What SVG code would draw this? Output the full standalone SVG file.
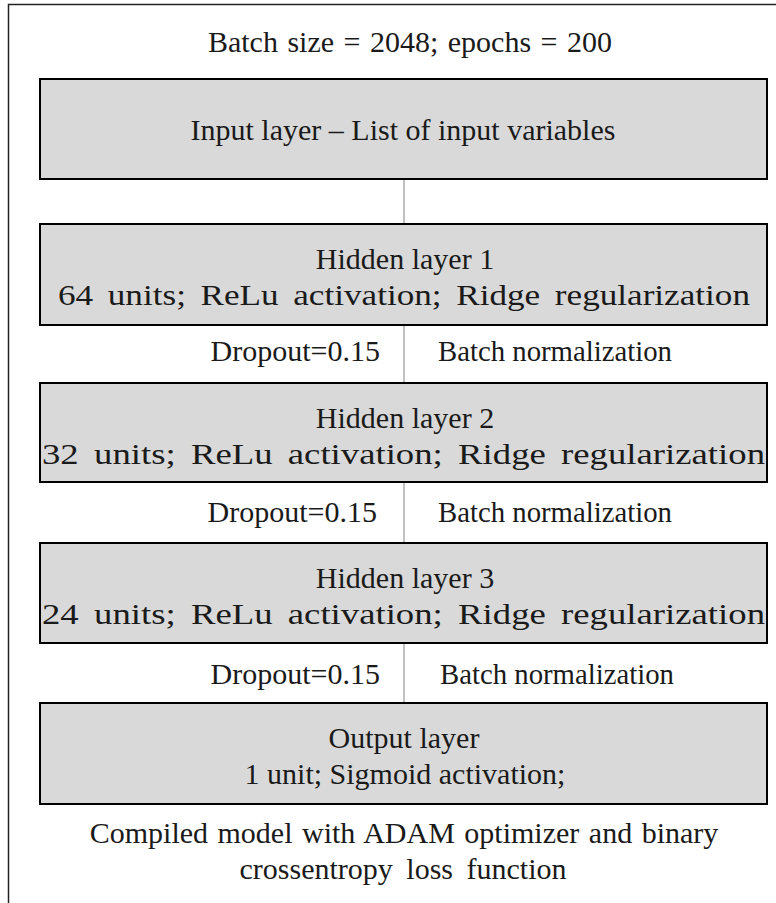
<svg xmlns="http://www.w3.org/2000/svg" width="776" height="903" viewBox="0 0 776 903">
<style>
  .frame { fill: none; stroke: #222; stroke-width: 1.5; }
  .box { fill: #d9d9d9; stroke: #000; stroke-width: 2; }
  .conn { stroke: #c0c0c0; stroke-width: 2; fill: none; }
  text { font-family: "Liberation Serif", "Times New Roman", serif; font-size: 30px; fill: #1a1a1a; }
  .c { text-anchor: middle; }
  .r { text-anchor: end; }
  .w { word-spacing: 5px; }
</style>
<rect width="776" height="903" fill="#ffffff"/>
<path class="frame" d="M8.5,903 V4.5 H776"/>
<text class="c" x="410" y="52" style="word-spacing:2px">Batch size = 2048; epochs = 200</text>
<g id="connectors">
  <line class="conn" x1="404" y1="179" x2="404" y2="224"/>
  <line class="conn" x1="404" y1="325" x2="404" y2="383"/>
  <line class="conn" x1="404" y1="482" x2="404" y2="543"/>
  <line class="conn" x1="404" y1="643" x2="404" y2="703"/>
</g>
<g id="input">
  <rect class="box" x="40" y="79" width="727" height="100"/>
  <text class="c" x="403" y="140">Input layer – List of input variables</text>
</g>
<g id="hidden1">
  <rect class="box" x="40" y="224" width="727" height="101"/>
  <text class="c" x="405" y="269">Hidden layer 1</text>
  <text class="w" x="58" y="305" textLength="692" lengthAdjust="spacingAndGlyphs">64 units; ReLu activation; Ridge regularization</text>
</g>
<g id="reg1">
  <text class="r" x="380" y="361">Dropout=0.15</text>
  <text x="438" y="361" textLength="234" lengthAdjust="spacingAndGlyphs">Batch normalization</text>
</g>
<g id="hidden2">
  <rect class="box" x="40" y="383" width="727" height="99"/>
  <text class="c" x="405" y="428">Hidden layer 2</text>
  <text class="w" x="42" y="464" textLength="723" lengthAdjust="spacingAndGlyphs">32 units; ReLu activation; Ridge regularization</text>
</g>
<g id="reg2">
  <text class="r" x="377" y="522">Dropout=0.15</text>
  <text x="438" y="522" textLength="234" lengthAdjust="spacingAndGlyphs">Batch normalization</text>
</g>
<g id="hidden3">
  <rect class="box" x="40" y="543" width="727" height="100"/>
  <text class="c" x="405" y="588">Hidden layer 3</text>
  <text class="w" x="42" y="624" textLength="723" lengthAdjust="spacingAndGlyphs">24 units; ReLu activation; Ridge regularization</text>
</g>
<g id="reg3">
  <text class="r" x="380" y="684">Dropout=0.15</text>
  <text x="440" y="684" textLength="234" lengthAdjust="spacingAndGlyphs">Batch normalization</text>
</g>
<g id="output">
  <rect class="box" x="40" y="703" width="727" height="101"/>
  <text class="c" x="404" y="748">Output layer</text>
  <text class="c" x="405" y="784">1 unit; Sigmoid activation;</text>
</g>
<text class="c" x="404" y="843" style="word-spacing:2px">Compiled model with ADAM optimizer and binary</text>
<text class="c" x="403" y="879" style="word-spacing:6px">crossentropy  loss function</text>
</svg>
